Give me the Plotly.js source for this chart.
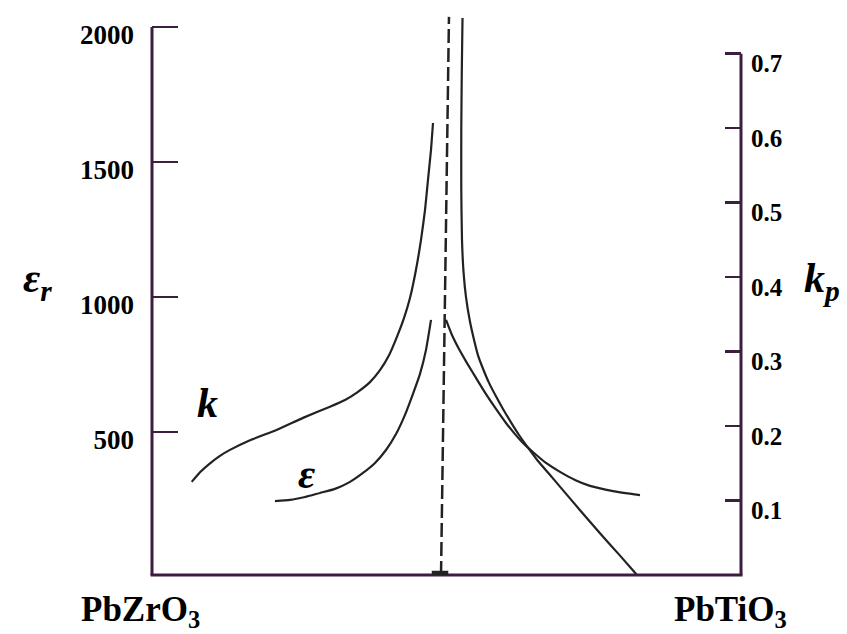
<!DOCTYPE html>
<html>
<head>
<meta charset="utf-8">
<script src="https://cdn.plot.ly/plotly-3.0.1.min.js"></script>
<style>html,body{margin:0;padding:0;background:#fff;}#chart{width:847px;height:634px;}</style>
</head>
<body>
<div id="chart"></div>
<script>
// composition axis: mol% PbTiO3 (0 = PbZrO3, 100 = PbTiO3)
const endLabels = ["PbZrO<sub>3</sub>", "PbTiO<sub>3</sub>"];
const epsTicks = [500, 1000, 1500, 2000];
const kpTicks = [0.1, 0.2, 0.3, 0.4, 0.5, 0.6, 0.7];

// k (kp) curve, Zr-rich side
const kLeftX = [6.74, 8.15, 9.85, 11.54, 13.24, 16.64, 21.22, 25.64, 30.22, 32.77, 34.97, 37.01, 38.71, 40.24, 41.60, 42.78, 43.80, 44.82, 45.67, 46.35, 46.86, 47.37, 47.71];
const kLeftY = [0.125, 0.138, 0.150, 0.160, 0.168, 0.181, 0.195, 0.211, 0.226, 0.235, 0.246, 0.259, 0.275, 0.295, 0.320, 0.345, 0.372, 0.410, 0.450, 0.490, 0.531, 0.571, 0.607];
// k (kp) curve, Ti-rich side
const kRightX = [52.72, 52.60, 52.51, 52.51, 52.63, 52.89, 53.31, 53.99, 54.67, 55.35, 56.20, 57.22, 58.40, 59.59, 60.95, 62.31, 63.84, 65.53, 67.40, 69.44, 72.67, 76.06, 79.46, 82.34];
const kRightY = [0.748, 0.678, 0.598, 0.517, 0.450, 0.407, 0.373, 0.340, 0.316, 0.295, 0.277, 0.258, 0.240, 0.223, 0.205, 0.188, 0.171, 0.153, 0.136, 0.117, 0.087, 0.056, 0.026, 0.0];
// epsilon_r curve, Zr-rich side
const eLeftX = [20.88, 23.43, 25.98, 28.52, 31.07, 33.62, 35.82, 37.86, 39.73, 41.43, 42.95, 44.31, 45.50, 46.52, 47.37];
const eLeftY = [244, 248, 259, 274, 289, 315, 348, 385, 433, 492, 563, 641, 715, 804, 915];
// epsilon_r curve, Ti-rich side
const eRightX = [49.92, 50.93, 52.12, 53.48, 55.01, 56.71, 58.40, 60.10, 61.63, 63.16, 64.86, 66.89, 69.27, 71.82, 74.36, 78.27, 82.85];
const eRightY = [915, 859, 807, 755, 700, 640, 585, 533, 492, 455, 422, 385, 352, 322, 300, 281, 266];
// morphotropic phase boundary (dashed)
const mpbX = [49.07, 50.42];
const mpbY = [0, 0.7495];

const ink = '#222222';
const axisCol = '#3c1f3f';
const serif = '"Liberation Serif", "Times New Roman", serif';

const curve = (x, y, axis) => ({
  x: x, y: y, yaxis: axis, type: 'scatter', mode: 'lines',
  line: {color: ink, width: 2.2, shape: 'spline', smoothing: 0.5},
  hoverinfo: 'skip', showlegend: false
});

const data = [
  curve(kLeftX, kLeftY, 'y2'),
  curve(kRightX, kRightY, 'y2'),
  curve(eLeftX, eLeftY, 'y'),
  curve(eRightX, eRightY, 'y'),
  {x: mpbX, y: mpbY, yaxis: 'y2', type: 'scatter', mode: 'lines',
   line: {color: ink, width: 2.5, dash: '14px,5px'}, hoverinfo: 'skip', showlegend: false}
];

const bold = v => '<b>' + v + '</b>';

const layout = {
  width: 847, height: 634,
  margin: {l: 152, r: 106, t: 15, b: 59},
  paper_bgcolor: '#ffffff', plot_bgcolor: '#ffffff',
  showlegend: false,
  font: {family: serif, color: '#000'},
  xaxis: {range: [0, 100], showgrid: false, zeroline: false, showline: false,
          showticklabels: false, ticks: '', fixedrange: true},
  yaxis: {range: [-30, 2044.5], showgrid: false, zeroline: false, showline: false,
          tickvals: epsTicks, ticktext: epsTicks.map(v => bold(String(v))),
          ticks: 'inside', ticklen: 26, tickwidth: 2.5, tickcolor: axisCol,
          tickfont: {family: serif, size: 27, color: '#000'},
          ticklabelstandoff: 17, ticklabelshift: 8},
  yaxis2: {range: [0, 0.752], overlaying: 'y', side: 'right', showgrid: false,
           zeroline: false, showline: false,
           tickvals: kpTicks, ticktext: kpTicks.map(v => bold(v.toFixed(1))),
           ticks: 'inside', ticklen: 16, tickwidth: 2.5, tickcolor: axisCol,
           tickfont: {family: serif, size: 25, color: '#000'},
           ticklabelstandoff: 9, ticklabelshift: 10},
  shapes: [
    {type: 'line', xref: 'paper', yref: 'y', x0: 0, x1: 0, y0: -30, y1: 2000,
     line: {color: axisCol, width: 3}},
    {type: 'line', xref: 'paper', yref: 'y2', x0: 1, x1: 1, y0: 0, y1: 0.7,
     line: {color: axisCol, width: 3}},
    {type: 'line', xref: 'paper', yref: 'paper', x0: -0.0025, x1: 1.0025, y0: 0, y1: 0,
     line: {color: axisCol, width: 3}},
    {type: 'line', xref: 'x', yref: 'paper', x0: 47.5, x1: 50.3, y0: 0.004, y1: 0.004,
     line: {color: ink, width: 4}}
  ],
  annotations: [
    {text: bold(endLabels[0]), xref: 'paper', yref: 'paper', x: -0.02, y: -0.065,
     showarrow: false, font: {family: serif, size: 35, color: '#000'}, xanchor: 'center', yanchor: 'middle'},
    {text: bold(endLabels[1]), xref: 'paper', yref: 'paper', x: 0.983, y: -0.065,
     showarrow: false, font: {family: serif, size: 35, color: '#000'}, xanchor: 'center', yanchor: 'middle'},
    {text: '<b><i>ε<sub>r</sub></i></b>', xref: 'paper', yref: 'paper', x: -0.195, y: 0.525,
     showarrow: false, font: {family: serif, size: 42, color: '#000'}, xanchor: 'center', yanchor: 'middle'},
    {text: '<b><i>k<sub>p</sub></i></b>', xref: 'paper', yref: 'paper', x: 1.1375, y: 0.525,
     showarrow: false, font: {family: serif, size: 42, color: '#000'}, xanchor: 'center', yanchor: 'middle'},
    {text: '<b><i>k</i></b>', xref: 'paper', yref: 'paper', x: 0.0934, y: 0.308,
     showarrow: false, font: {family: serif, size: 42, color: '#000'}, xanchor: 'center', yanchor: 'middle'},
    {text: '<b><i>ε</i></b>', xref: 'paper', yref: 'paper', x: 0.263, y: 0.18,
     showarrow: false, font: {family: serif, size: 42, color: '#000'}, xanchor: 'center', yanchor: 'middle'}
  ]
};

Plotly.newPlot('chart', data, layout, {staticPlot: true, displayModeBar: false});
</script>
</body>
</html>
